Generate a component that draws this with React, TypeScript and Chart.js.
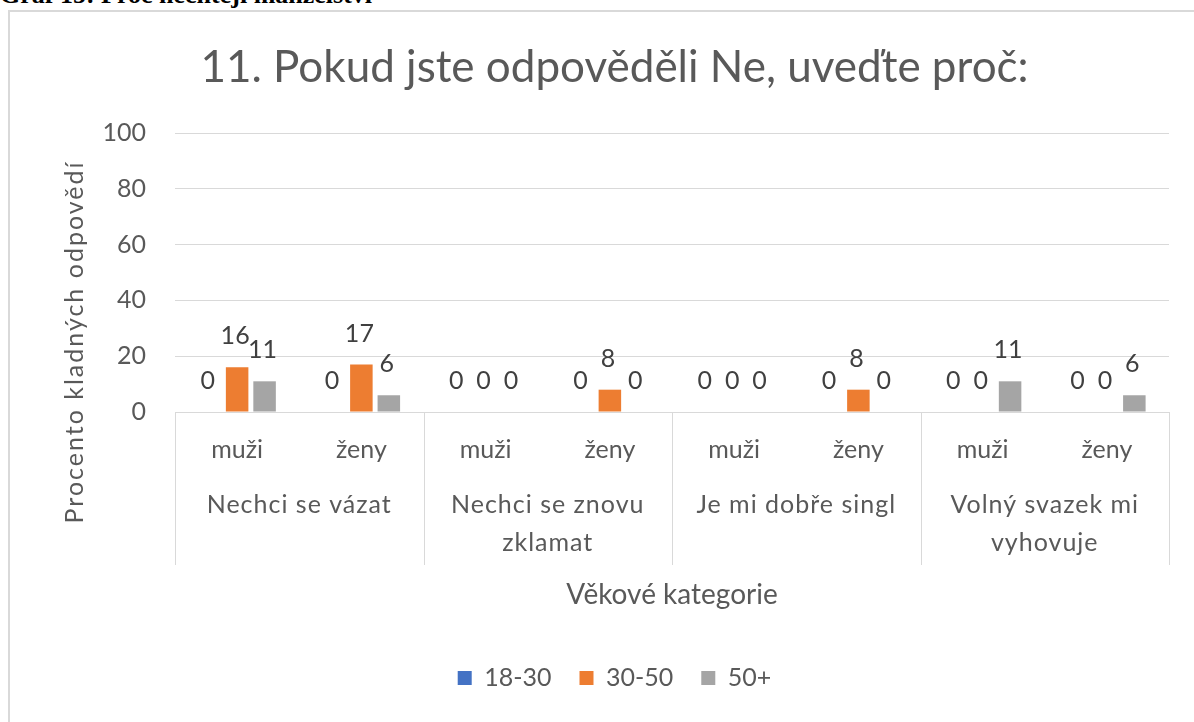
import React, { useEffect, useRef } from "react";
import { Chart, registerables } from "chart.js";

Chart.register(...registerables);

const groups: string[][] = [
  ["Nechci se vázat"],
  ["Nechci se znovu", "zklamat"],
  ["Je mi dobře singl"],
  ["Volný svazek mi", "vyhovuje"],
];
const genders = ["muži", "ženy"];
const categories = groups.flatMap(() => genders);
const series1830 = [0, 0, 0, 0, 0, 0, 0, 0];
const series3050 = [16, 17, 0, 8, 0, 8, 0, 0];
const series50 = [11, 6, 0, 0, 0, 0, 11, 6];
const seriesNames = ["18-30", "30-50", "50+"];
const yTicks = [0, 20, 40, 60, 80, 100];
const chartTitle = "11. Pokud jste odpověděli Ne, uveďte proč:";
const yTitle = "Procento kladných odpovědí";
const xTitle = "Věkové kategorie";
const captionText = "Graf 15: Proč nechtějí manželství";

const FONT = "Lato, 'Open Sans', sans-serif";
const TXT = "#595959";
const GRID = "#d9d9d9";

const extrasPlugin = {
  id: "extras",
  afterDatasetsDraw(chart: any) {
    const { ctx } = chart;
    ctx.save();
    ctx.font = `25px ${FONT}`;
    ctx.fillStyle = "#404040";
    ctx.textAlign = "center";
    ctx.textBaseline = "alphabetic";
    chart.data.datasets.forEach((ds: any, di: number) => {
      const meta = chart.getDatasetMeta(di);
      meta.data.forEach((el: any, i: number) => {
        ctx.fillText(String(ds.data[i]), el.x - 2, el.y - 23);
      });
    });
    ctx.restore();
  },
  afterDraw(chart: any) {
    const { ctx, chartArea } = chart;
    const x = chart.scales.x;
    ctx.save();
    ctx.strokeStyle = GRID;
    ctx.lineWidth = 1;
    const bounds: number[] = [x.left];
    for (let g = 1; g < groups.length; g++) {
      const i = g * genders.length;
      bounds.push((x.getPixelForValue(i - 1) + x.getPixelForValue(i)) / 2);
    }
    bounds.push(x.right);
    bounds.forEach((b) => {
      const px = Math.round(b) + 0.5;
      ctx.beginPath();
      ctx.moveTo(px, chartArea.bottom);
      ctx.lineTo(px, 565);
      ctx.stroke();
    });
    ctx.font = `25px ${FONT}`;
    ctx.fillStyle = TXT;
    ctx.textAlign = "center";
    ctx.textBaseline = "middle";
    (ctx as any).letterSpacing = "1px";
    groups.forEach((lines, g) => {
      const cx = (bounds[g] + bounds[g + 1]) / 2;
      lines.forEach((ln, li) => ctx.fillText(ln, cx, 505 + li * 38));
    });
    ctx.translate(75, 342);
    ctx.rotate(-Math.PI / 2);
    (ctx as any).letterSpacing = "2px";
    ctx.fillText(yTitle, 0, 0);
    ctx.restore();
  },
};

export default function App() {
  const ref = useRef<HTMLCanvasElement>(null);
  useEffect(() => {
    if (!ref.current) return;
    const chart = new Chart(ref.current, {
      type: "bar",
      data: {
        labels: categories,
        datasets: [
          { label: seriesNames[0], data: series1830, backgroundColor: "#4472C4" },
          { label: seriesNames[1], data: series3050, backgroundColor: "#ED7D31" },
          { label: seriesNames[2], data: series50, backgroundColor: "#A5A5A5" },
        ],
      },
      options: {
        animation: false,
        responsive: false,
        devicePixelRatio: 1,
        datasets: { bar: { categoryPercentage: 0.663, barPercentage: 0.82 } },
        layout: { padding: { left: 60, right: 25, top: 0, bottom: 21.5 } },
        plugins: {
          title: {
            display: true,
            text: chartTitle,
            color: TXT,
            font: { family: FONT, size: 44, weight: "normal", lineHeight: 1.2 },
            padding: { top: 41.6, bottom: 38.6 },
          },
          legend: {
            position: "bottom",
            labels: {
              color: TXT,
              font: { family: FONT, size: 25, lineHeight: 1.2 },
              boxWidth: 14,
              boxHeight: 14,
              padding: 28,
            },
          },
          tooltip: { enabled: false },
        },
        scales: {
          x: {
            grid: { display: false, drawTicks: false },
            border: { display: true, color: GRID, width: 1 },
            ticks: {
              color: TXT,
              font: { family: FONT, size: 25, lineHeight: 1.2 },
              padding: 23,
              maxRotation: 0,
              autoSkip: false,
            },
            title: {
              display: true,
              text: xTitle,
              color: TXT,
              font: { family: FONT, size: 28, lineHeight: 1.2 },
              padding: { top: 0, bottom: 25.7 },
            },
            afterFit: (s: any) => {
              s.height = 225.5;
            },
          },
          y: {
            min: 0,
            max: 100,
            afterBuildTicks: (s: any) => {
              s.ticks = yTicks.map((v) => ({ value: v }));
            },
            grid: { color: GRID, drawTicks: false },
            border: { display: false },
            ticks: {
              color: TXT,
              font: { family: FONT, size: 25, lineHeight: 1.2 },
              padding: 29,
            },
            afterFit: (s: any) => {
              s.width = 115;
            },
          },
        },
      },
      plugins: [extrasPlugin],
    });
    return () => chart.destroy();
  }, []);

  return (
    <div
      style={{
        position: "fixed",
        left: 0,
        top: 0,
        width: 1194,
        height: 722,
        overflow: "hidden",
        background: "#fff",
      }}
    >
      <div
        style={{
          position: "absolute",
          left: 8,
          top: 10,
          width: 1300,
          height: 800,
          border: "2px solid #d9d9d9",
          boxSizing: "border-box",
        }}
      />
      <div
        style={{
          position: "absolute",
          left: 0,
          top: -18,
          fontFamily: "'Liberation Serif', 'Times New Roman', serif",
          fontWeight: "bold",
          fontSize: 26,
          lineHeight: "26px",
          whiteSpace: "nowrap",
          color: "#000",
        }}
      >
        {captionText}
      </div>
      <canvas
        ref={ref}
        width={1194}
        height={722}
        style={{ position: "absolute", left: 0, top: 0, width: 1194, height: 722 }}
      />
    </div>
  );
}
